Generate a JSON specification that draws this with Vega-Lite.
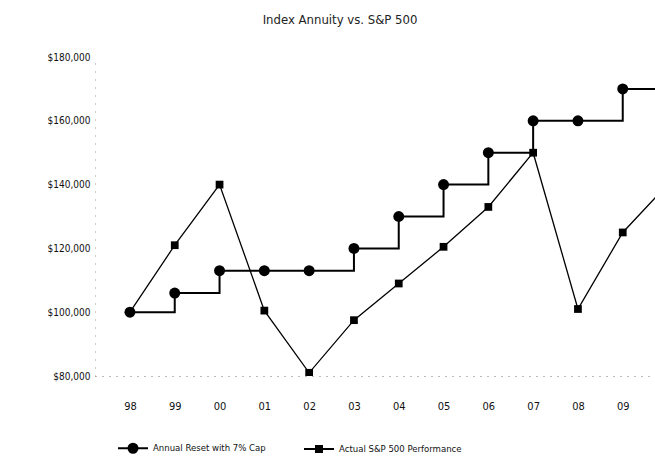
{
  "$schema": "https://vega.github.io/schema/vega-lite/v6.json",
  "width": 560,
  "height": 319,
  "autosize": {"type": "none"},
  "padding": {"left": 95, "top": 57, "right": 0, "bottom": 90},
  "background": "white",
  "config": {"font": "'DejaVu Sans Condensed', 'Liberation Sans', sans-serif", "view": {"stroke": null}},
  "title": {"text": "Index Annuity vs. S&P 500", "fontSize": 13, "fontWeight": "normal", "color": "#222", "offset": 25, "dx": -35},
  "data": {"values": [
    {"year": 1998, "series": "Annual Reset with 7% Cap", "value": 100000},
    {"year": 1999, "series": "Annual Reset with 7% Cap", "value": 106000},
    {"year": 2000, "series": "Annual Reset with 7% Cap", "value": 113000},
    {"year": 2001, "series": "Annual Reset with 7% Cap", "value": 113000},
    {"year": 2002, "series": "Annual Reset with 7% Cap", "value": 113000},
    {"year": 2003, "series": "Annual Reset with 7% Cap", "value": 120000},
    {"year": 2004, "series": "Annual Reset with 7% Cap", "value": 130000},
    {"year": 2005, "series": "Annual Reset with 7% Cap", "value": 140000},
    {"year": 2006, "series": "Annual Reset with 7% Cap", "value": 150000},
    {"year": 2007, "series": "Annual Reset with 7% Cap", "value": 160000},
    {"year": 2008, "series": "Annual Reset with 7% Cap", "value": 160000},
    {"year": 2009, "series": "Annual Reset with 7% Cap", "value": 170000},
    {"year": 2010, "series": "Annual Reset with 7% Cap", "value": 170000},
    {"year": 1998, "series": "Actual S&P 500 Performance", "value": 100000},
    {"year": 1999, "series": "Actual S&P 500 Performance", "value": 121000},
    {"year": 2000, "series": "Actual S&P 500 Performance", "value": 140000},
    {"year": 2001, "series": "Actual S&P 500 Performance", "value": 100500},
    {"year": 2002, "series": "Actual S&P 500 Performance", "value": 81000},
    {"year": 2003, "series": "Actual S&P 500 Performance", "value": 97500},
    {"year": 2004, "series": "Actual S&P 500 Performance", "value": 109000},
    {"year": 2005, "series": "Actual S&P 500 Performance", "value": 120500},
    {"year": 2006, "series": "Actual S&P 500 Performance", "value": 133000},
    {"year": 2007, "series": "Actual S&P 500 Performance", "value": 150000},
    {"year": 2008, "series": "Actual S&P 500 Performance", "value": 101000},
    {"year": 2009, "series": "Actual S&P 500 Performance", "value": 125000},
    {"year": 2010, "series": "Actual S&P 500 Performance", "value": 140000}
  ]},
  "encoding": {
    "x": {"field": "year", "type": "quantitative",
      "scale": {"domain": [1997.22, 2009.72], "nice": false, "zero": false},
      "axis": {"title": null, "values": [1998,1999,2000,2001,2002,2003,2004,2005,2006,2007,2008,2009],
        "labelExpr": "substring(toString(datum.value), 2, 4)", "grid": false, "ticks": false,
        "domain": true, "domainDash": [1, 6], "domainColor": "#777", "domainWidth": 1,
        "labelPadding": 24, "labelFontSize": 11, "labelColor": "#111"}},
    "y": {"field": "value", "type": "quantitative",
      "scale": {"domain": [80000, 180000], "nice": false, "zero": false},
      "axis": {"title": null, "values": [80000,100000,120000,140000,160000,180000],
        "labelExpr": "'$' + format(datum.value, ',')", "grid": false, "ticks": false,
        "domain": true, "domainDash": [1, 7], "domainColor": "#999", "domainWidth": 1,
        "labelPadding": 5, "labelFontSize": 10, "labelColor": "#111"}}
  },
  "layer": [
    {"transform": [{"filter": "datum.series === 'Annual Reset with 7% Cap'"}],
     "mark": {"type": "line", "interpolate": "step-after", "color": "black", "strokeWidth": 2, "clip": true},
     "encoding": {}},
    {"transform": [{"filter": "datum.series === 'Actual S&P 500 Performance'"}],
     "mark": {"type": "line", "color": "black", "strokeWidth": 1.3, "clip": true},
     "encoding": {}},
    {"mark": {"type": "point", "filled": true, "clip": true, "opacity": 1, "color": "black"},
     "encoding": {
       "shape": {"condition": {"test": "datum.series === 'Annual Reset with 7% Cap'", "value": "circle"}, "value": "square"},
       "size": {"condition": {"test": "datum.series === 'Annual Reset with 7% Cap'", "value": 120}, "value": 60}
     }},
    {"transform": [{"filter": "datum.year === 2010"}],
     "mark": {"type": "point", "filled": false, "clip": true, "color": "black", "opacity": 1, "strokeWidth": 2},
     "encoding": {
       "shape": {"field": "series", "type": "nominal",
         "scale": {"domain": ["Annual Reset with 7% Cap", "Actual S&P 500 Performance"],
           "range": [
             "M-1,0H1M0.3,0A0.3,0.3,0,1,1,-0.3,0A0.3,0.3,0,1,1,0.3,0M0.22,0A0.22,0.22,0,1,1,-0.22,0A0.22,0.22,0,1,1,0.22,0M0.14,0A0.14,0.14,0,1,1,-0.14,0A0.14,0.14,0,1,1,0.14,0M0.06,0A0.06,0.06,0,1,1,-0.06,0A0.06,0.06,0,1,1,0.06,0",
             "M-1,0H1M-0.2,-0.2H0.2V0.2H-0.2ZM-0.12,-0.12H0.12V0.12H-0.12ZM-0.04,-0.04H0.04V0.04H-0.04Z"]},
         "legend": {"title": null, "orient": "none", "direction": "horizontal", "legendX": 22, "legendY": 375,
           "symbolSize": 900, "symbolStrokeWidth": 2, "symbolStrokeColor": "black", "symbolOpacity": 1,
           "labelFontSize": 9.5, "labelColor": "#111", "columnPadding": 34, "labelOffset": 4}}
     }}
  ]
}
